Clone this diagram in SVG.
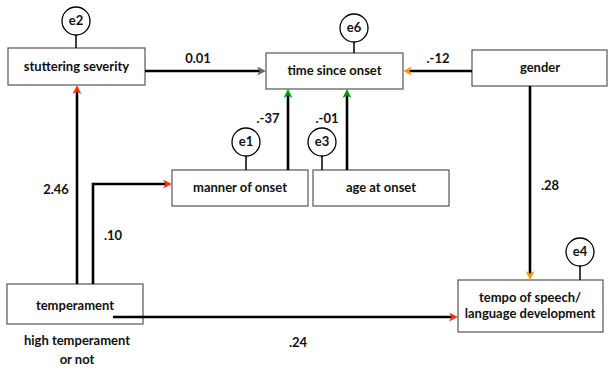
<svg xmlns="http://www.w3.org/2000/svg" width="608" height="370" viewBox="0 0 608 370">
<style>
text{font-family:Lato,"Open Sans","DejaVu Sans",sans-serif;font-weight:bold;font-size:13px;fill:#111;text-anchor:middle}
.box{fill:#fff;stroke:#555;stroke-width:1.2}
.err{fill:#fff;stroke:#000;stroke-width:1.3}
.stem{stroke:#000;stroke-width:1.5}
.c{fill:none;stroke:#000;stroke-width:2.6}
</style>
<defs>
<marker id="ag" markerUnits="userSpaceOnUse" markerWidth="10" markerHeight="10" refX="3" refY="4.5" orient="auto"><path d="M0,0 L9,4.5 L0,9 L2.5,4.5 z" fill="#666"/></marker>
<marker id="ar" markerUnits="userSpaceOnUse" markerWidth="10" markerHeight="10" refX="3" refY="4.5" orient="auto"><path d="M0,0 L9,4.5 L0,9 L2.5,4.5 z" fill="#ff3300"/></marker>
<marker id="agr" markerUnits="userSpaceOnUse" markerWidth="10" markerHeight="10" refX="3" refY="4.5" orient="auto"><path d="M0,0 L9,4.5 L0,9 L2.5,4.5 z" fill="#009900"/></marker>
<marker id="ao" markerUnits="userSpaceOnUse" markerWidth="10" markerHeight="10" refX="3" refY="4.5" orient="auto"><path d="M0,0 L9,4.5 L0,9 L2.5,4.5 z" fill="#ff9900"/></marker>
</defs>
<g id="stuttering-severity"><rect class="box" x="8" y="48" width="137" height="37"/><text x="76.5" y="71">stuttering severity</text></g>
<g id="e2"><line class="stem" x1="76" y1="35" x2="76" y2="48"/><circle class="err" cx="76" cy="21" r="14"/><text x="76" y="25">e2</text></g>
<g id="time-since-onset"><rect class="box" x="266" y="53" width="137" height="36"/><text x="334.5" y="75">time since onset</text></g>
<g id="e6"><line class="stem" x1="354" y1="42" x2="354" y2="53"/><circle class="err" cx="354" cy="28" r="14"/><text x="354" y="32">e6</text></g>
<g id="gender"><rect class="box" x="472" y="50" width="135" height="36"/><text x="540" y="72">gender</text></g>
<g id="manner-of-onset"><rect class="box" x="172" y="170" width="136" height="36"/><text x="240" y="192">manner of onset</text></g>
<g id="e1"><line class="stem" x1="246" y1="156" x2="246" y2="170"/><circle class="err" cx="246" cy="142" r="14"/><text x="246" y="146">e1</text></g>
<g id="age-at-onset"><rect class="box" x="313" y="170" width="136" height="36"/><text x="381" y="192">age at onset</text></g>
<g id="e3"><line class="stem" x1="322" y1="156" x2="322" y2="170"/><circle class="err" cx="322" cy="142" r="14"/><text x="322" y="146">e3</text></g>
<g id="temperament"><rect class="box" x="7" y="284" width="136" height="40"/><text x="75" y="310">temperament</text><text x="77" y="345">high temperament</text><text x="77" y="364">or not</text></g>
<g id="tempo"><rect class="box" x="458" y="280" width="145" height="52"/><text x="530" y="302">tempo of speech/</text><text x="530" y="318">language development</text></g>
<g id="e4"><line class="stem" x1="580" y1="266" x2="580" y2="280"/><circle class="err" cx="580" cy="252" r="14"/><text x="580" y="256">e4</text></g>
<g id="connectors">
<path class="c" d="M145,71 H260" marker-end="url(#ag)"/>
<path class="c" d="M472,71 H409" marker-end="url(#ao)"/>
<path class="c" d="M288,170 V95" marker-end="url(#agr)"/>
<path class="c" d="M347,170 V95" marker-end="url(#agr)"/>
<path class="c" d="M77,284 V91" marker-end="url(#ar)"/>
<path class="c" d="M93,284 V184 H166" marker-end="url(#ar)"/>
<path class="c" d="M113,317 H452" marker-end="url(#ar)"/>
<path class="c" d="M530,86 V274" marker-end="url(#ao)"/>
<text x="198" y="63">0.01</text>
<text x="438" y="63">.-12</text>
<text x="268" y="123">.-37</text>
<text x="327" y="123">.-01</text>
<text x="56" y="194">2.46</text>
<text x="113" y="240">.10</text>
<text x="298" y="347">.24</text>
<text x="550" y="190">.28</text>
</g>
</svg>
